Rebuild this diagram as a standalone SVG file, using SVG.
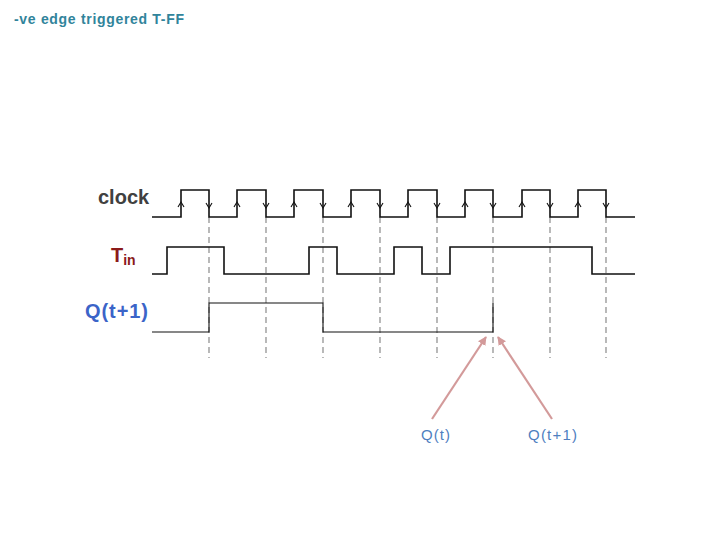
<svg xmlns="http://www.w3.org/2000/svg" width="720" height="540" viewBox="0 0 720 540">
<style>
.wave{fill:none;stroke:#111;stroke-width:1.6}
.thin{fill:none;stroke:#111;stroke-width:1.1}
.dash{stroke:#8a8a8a;stroke-width:1.2;stroke-dasharray:6,4}
.chev{fill:none;stroke:#111;stroke-width:1.1}
.lbl{font-family:"Liberation Sans",Arial,sans-serif;font-weight:bold}
.pink{stroke:#d39a9a;stroke-width:2.2;fill:none}
.note{font-family:"Liberation Sans",Arial,sans-serif;font-size:15px;fill:#4f7fbf}
</style>
<defs>
<marker id="ah" viewBox="0 0 10 10" refX="9" refY="5" markerWidth="4" markerHeight="4" orient="auto">
<path d="M0,0 L10,5 L0,10 z" fill="#d39a9a"/>
</marker>
</defs>
<text id="title" x="14" y="24" class="lbl" font-size="14" fill="#31849b" textLength="170">-ve edge triggered T-FF</text>
<g id="grid">
<line class="dash" x1="209" y1="217" x2="209" y2="358"/>
<line class="dash" x1="266" y1="217" x2="266" y2="358"/>
<line class="dash" x1="323" y1="217" x2="323" y2="358"/>
<line class="dash" x1="380" y1="217" x2="380" y2="358"/>
<line class="dash" x1="437" y1="217" x2="437" y2="358"/>
<line class="dash" x1="493" y1="217" x2="493" y2="358"/>
<line class="dash" x1="550" y1="217" x2="550" y2="358"/>
<line class="dash" x1="606" y1="217" x2="606" y2="358"/>
</g>
<g id="clock">
<text x="98" y="204" class="lbl" font-size="20" fill="#404040">clock</text>
<path class="wave" d="M152,217 H181 V190 H209 V217 H237 V190 H266 V217 H294 V190 H323 V217 H351 V190 H380 V217 H408 V190 H437 V217 H465 V190 H493 V217 H522 V190 H550 V217 H578 V190 H606 V217 H635"/>
<g class="chev">
<path d="M178,207 L181,202 L184,207"/><path d="M234,207 L237,202 L240,207"/><path d="M291,207 L294,202 L297,207"/><path d="M348,207 L351,202 L354,207"/><path d="M405,207 L408,202 L411,207"/><path d="M462,207 L465,202 L468,207"/><path d="M519,207 L522,202 L525,207"/><path d="M575,207 L578,202 L581,207"/>
<path d="M206,203 L209,208 L212,203"/><path d="M263,203 L266,208 L269,203"/><path d="M320,203 L323,208 L326,203"/><path d="M377,203 L380,208 L383,203"/><path d="M434,203 L437,208 L440,203"/><path d="M490,203 L493,208 L496,203"/><path d="M547,203 L550,208 L553,203"/><path d="M603,203 L606,208 L609,203"/>
</g>
</g>
<g id="tin">
<text x="111" y="262" class="lbl" font-size="20" fill="#8b1a1a">T<tspan font-size="14" dy="3">in</tspan></text>
<path class="wave" d="M152,274 H167 V247 H224 V274 H309 V247 H337 V274 H394 V247 H422 V274 H450 V247 H592 V274 H635"/>
</g>
<g id="q">
<text x="85" y="318" class="lbl" font-size="20" fill="#3b64c8" textLength="63">Q(t+1)</text>
<path class="thin" d="M152,332 H209 V303 H323 V332 H493 V303"/>
</g>
<g id="connectors">
<line class="pink" x1="432" y1="419" x2="486" y2="337" marker-end="url(#ah)"/>
<line class="pink" x1="552" y1="419" x2="498" y2="337" marker-end="url(#ah)"/>
</g>
<g id="labels">
<text x="421" y="440" class="note" textLength="29">Q(t)</text>
<text x="528" y="440" class="note" textLength="49">Q(t+1)</text>
</g>
</svg>
